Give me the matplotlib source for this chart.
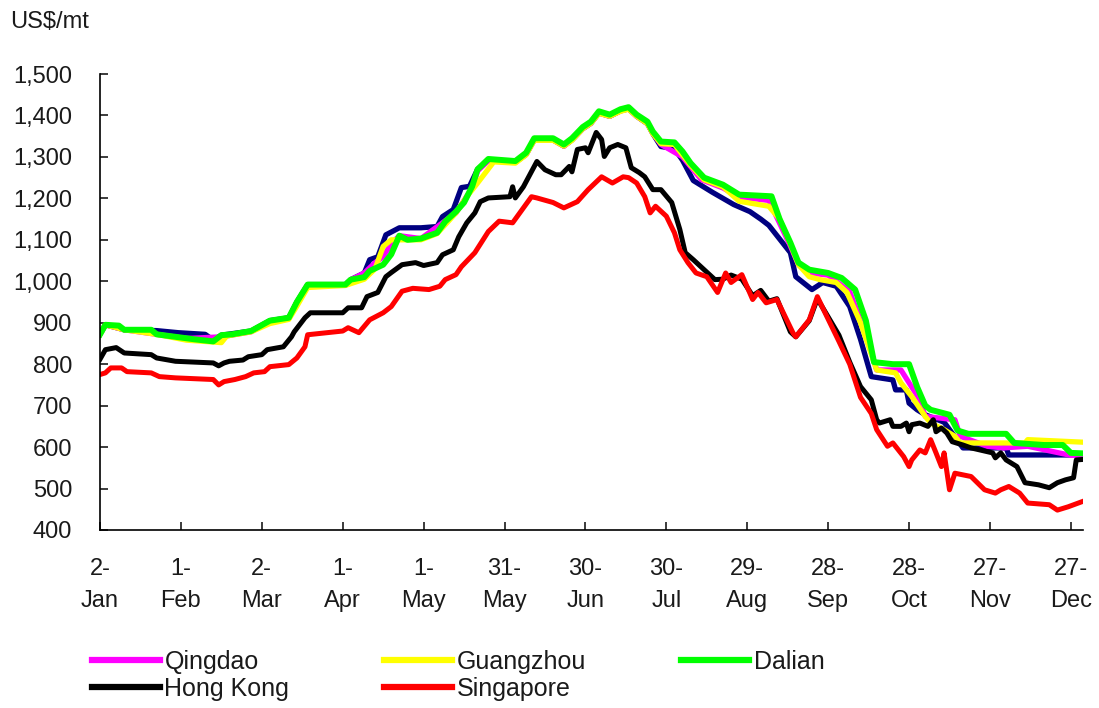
import pandas as pd
import matplotlib
matplotlib.use("Agg")
import matplotlib.pyplot as plt
import matplotlib.dates as mdates
from matplotlib.ticker import FuncFormatter

plt.rcParams['font.family'] = ['Liberation Sans', 'DejaVu Sans']

# daily port prices, US$/mt, 2008 (key turning points)
dalian_dates = ["01-02", "01-04", "01-09", "01-11", "01-21", "01-23", "01-30", "02-06", "02-13", "02-16",
                "02-20", "02-27", "03-05", "03-12", "03-15", "03-19", "04-02", "04-04", "04-09", "04-11",
                "04-16", "04-19", "04-22", "04-25", "04-30", "05-06", "05-09", "05-13", "05-16", "05-19",
                "05-21", "05-25", "06-04", "06-08", "06-11", "06-18", "06-22", "06-25", "06-29", "07-02",
                "07-05", "07-09", "07-13", "07-16", "07-19", "07-23", "07-25", "07-28", "08-02", "08-05",
                "08-08", "08-13", "08-20", "08-26", "09-07", "09-10", "09-14", "09-17", "09-21", "09-28",
                "10-03", "10-08", "10-12", "10-15", "10-22", "10-28", "10-31", "11-03", "11-05", "11-12",
                "11-15", "11-19", "12-03", "12-06", "12-17", "12-24", "12-27", "12-31"]
dalian_vals = [872, 895, 893, 883, 883, 872, 866, 860, 855, 870,
               872, 880, 905, 912, 950, 992, 992, 1004, 1010, 1025,
               1040, 1065, 1110, 1100, 1103, 1117, 1144, 1168, 1190, 1229,
               1270, 1295, 1290, 1310, 1345, 1345, 1330, 1345, 1372, 1385,
               1410, 1402, 1415, 1420, 1402, 1385, 1361, 1337, 1335, 1313,
               1285, 1250, 1233, 1209, 1205, 1150, 1093, 1045, 1028, 1020,
               1008, 980, 905, 805, 800, 800, 745, 700, 690, 678,
               640, 632, 632, 610, 605, 605, 586, 585]

hk_dates = ["01-02", "01-04", "01-08", "01-11", "01-21", "01-23", "01-30", "02-13", "02-15", "02-17",
            "02-19", "02-24", "02-26", "03-02", "03-04", "03-10", "03-13", "03-14", "03-18", "03-20",
            "04-01", "04-03", "04-08", "04-10", "04-14", "04-17", "04-19", "04-23", "04-28", "05-01",
            "05-06", "05-08", "05-12", "05-14", "05-17", "05-20", "05-22", "05-25", "06-02", "06-03",
            "06-04", "06-07", "06-12", "06-15", "06-19", "06-21", "06-24", "06-25", "06-27", "06-30",
            "07-01", "07-04", "07-06", "07-07", "07-09", "07-12", "07-15", "07-17", "07-20", "07-22",
            "07-25", "07-28", "08-01", "08-04", "08-06", "08-09", "08-13", "08-17", "08-20", "08-23",
            "08-27", "08-31", "09-03", "09-06", "09-09", "09-14", "09-16", "09-21", "09-24", "09-27",
            "10-02", "10-06", "10-10", "10-14", "10-16", "10-17", "10-21", "10-22", "10-25", "10-27",
            "10-28", "10-29", "11-01", "11-04", "11-06", "11-07", "11-09", "11-11", "11-13", "11-17",
            "11-20", "11-26", "11-28", "11-29", "12-01", "12-03", "12-07", "12-10", "12-15", "12-19",
            "12-22", "12-25", "12-28", "12-29", "12-31"]
hk_vals = [812, 835, 840, 827, 823, 815, 807, 803, 796, 803,
           807, 810, 818, 823, 835, 842, 866, 878, 912, 924,
           924, 936, 936, 963, 973, 1011, 1021, 1040, 1045, 1038,
           1045, 1064, 1076, 1107, 1141, 1165, 1192, 1201, 1204, 1228,
           1201, 1228, 1289, 1269, 1257, 1257, 1277, 1264, 1318, 1322,
           1310, 1359, 1342, 1301, 1322, 1330, 1322, 1274, 1262, 1252,
           1221, 1221, 1190, 1125, 1069, 1052, 1028, 1004, 1005, 1015,
           1005, 965, 978, 952, 958, 878, 866, 905, 958, 925,
           870, 805, 746, 714, 666, 658, 666, 650, 650, 658,
           637, 654, 658, 650, 666, 637, 646, 634, 613, 605,
           598, 589, 586, 574, 586, 569, 553, 514, 509, 502,
           514, 521, 526, 569, 570]

sg_dates = ["01-02", "01-04", "01-06", "01-10", "01-12", "01-21", "01-24", "01-30", "02-13", "02-15",
            "02-17", "02-21", "02-25", "02-28", "03-03", "03-05", "03-12", "03-15", "03-18", "03-19",
            "04-01", "04-03", "04-07", "04-11", "04-16", "04-19", "04-23", "04-27", "05-03", "05-07",
            "05-09", "05-13", "05-15", "05-20", "05-25", "05-29", "06-03", "06-10", "06-12", "06-18",
            "06-22", "06-27", "07-01", "07-06", "07-10", "07-14", "07-16", "07-19", "07-22", "07-24",
            "07-26", "07-30", "08-02", "08-04", "08-07", "08-10", "08-14", "08-18", "08-21", "08-23",
            "08-27", "08-31", "09-02", "09-05", "09-09", "09-15", "09-16", "09-21", "09-24", "09-27",
            "10-02", "10-06", "10-10", "10-14", "10-16", "10-20", "10-22", "10-26", "10-28", "10-29",
            "11-01", "11-03", "11-05", "11-07", "11-09", "11-10", "11-12", "11-14", "11-20", "11-25",
            "11-29", "12-01", "12-04", "12-08", "12-11", "12-19", "12-22", "12-26", "12-31"]
sg_vals = [775, 779, 791, 791, 782, 779, 770, 767, 763, 750,
           758, 763, 770, 779, 782, 794, 799, 815, 842, 871,
           880, 888, 876, 907, 924, 939, 976, 983, 980, 988,
           1004, 1016, 1035, 1069, 1120, 1145, 1141, 1204, 1201, 1190,
           1177, 1192, 1221, 1252, 1237, 1252, 1250, 1237, 1204, 1165,
           1181, 1157, 1117, 1076, 1045, 1020, 1011, 973, 1020, 997,
           1016, 956, 973, 948, 956, 875, 866, 907, 963, 922,
           855, 800, 720, 681, 642, 602, 610, 577, 553, 569,
           593, 586, 618, 586, 553, 586, 497, 537, 529, 497,
           489, 497, 505, 489, 465, 461, 448, 456, 468]

# unlabelled navy series (no legend entry in the source)
navy_dates = ["01-02", "01-04", "01-11", "01-23", "01-31", "02-10", "02-13", "02-16", "02-27", "03-05",
              "03-12", "03-15", "03-19", "04-02", "04-04", "04-09", "04-11", "04-14", "04-17", "04-22",
              "04-30", "05-06", "05-08", "05-12", "05-15", "05-18", "05-21", "05-25", "06-04", "06-08",
              "06-11", "06-18", "06-22", "06-25", "06-29", "07-02", "07-05", "07-09", "07-13", "07-16",
              "07-19", "07-23", "07-25", "07-28", "08-02", "08-05", "08-09", "08-16", "08-24", "08-30",
              "09-03", "09-06", "09-14", "09-16", "09-22", "09-26", "10-01", "10-06", "10-10", "10-14",
              "10-22", "10-23", "10-27", "10-28", "10-31", "11-03", "11-10", "11-17", "12-03", "12-04",
              "12-31"]
navy_vals = [872, 895, 883, 881, 876, 872, 858, 870, 880, 905,
             912, 950, 992, 992, 1004, 1020, 1052, 1059, 1112, 1129,
             1129, 1132, 1156, 1173, 1226, 1229, 1270, 1292, 1287, 1306,
             1341, 1341, 1326, 1341, 1368, 1381, 1406, 1398, 1411, 1416,
             1398, 1380, 1356, 1325, 1320, 1292, 1243, 1215, 1185, 1168,
             1150, 1135, 1069, 1011, 980, 997, 988, 939, 860, 770,
             762, 738, 738, 706, 690, 678, 660, 598, 598, 581,
             581]

gz_dates = ["01-02", "01-04", "01-11", "01-23", "02-03", "02-16", "02-18", "02-27", "03-05", "03-12",
            "03-15", "03-19", "04-02", "04-09", "04-13", "04-16", "04-19", "04-30", "05-06", "05-13",
            "05-17", "05-21", "05-27", "06-04", "06-08", "06-11", "06-18", "06-22", "06-25", "06-29",
            "07-02", "07-05", "07-09", "07-13", "07-16", "07-19", "07-23", "07-25", "07-28", "08-02",
            "08-08", "08-13", "08-20", "08-26", "09-06", "09-10", "09-14", "09-17", "09-21", "09-25",
            "10-01", "10-05", "10-10", "10-16", "10-23", "10-25", "10-29", "11-03", "11-05", "11-10",
            "11-14", "11-16", "12-10", "12-11", "12-31"]
gz_vals = [872, 895, 883, 872, 858, 852, 868, 878, 898, 908,
           940, 985, 990, 1005, 1030, 1084, 1100, 1100, 1115, 1165,
           1204, 1237, 1288, 1285, 1305, 1340, 1340, 1326, 1340, 1368,
           1381, 1405, 1398, 1410, 1415, 1398, 1380, 1356, 1332, 1330,
           1280, 1245, 1228, 1193, 1181, 1150, 1090, 1040, 1011, 1004,
           997, 973, 900, 786, 779, 755, 722, 674, 658, 642,
           626, 610, 610, 618, 612]

qd_dates = ["01-02", "01-04", "01-11", "01-23", "02-03", "02-16", "02-27", "03-05", "03-12", "03-15",
            "03-19", "04-02", "04-04", "04-09", "04-13", "04-16", "04-19", "04-22", "04-30", "05-13",
            "05-19", "05-21", "05-25", "06-04", "06-08", "06-11", "06-18", "06-22", "06-25", "06-29",
            "07-02", "07-05", "07-09", "07-13", "07-16", "07-19", "07-23", "07-25", "07-28", "08-05",
            "08-12", "08-20", "08-26", "09-06", "09-14", "09-17", "09-21", "09-28", "10-06", "10-12",
            "10-16", "10-25", "11-01", "11-03", "11-14", "11-16", "11-26", "12-02", "12-11", "12-27",
            "12-31"]
qd_vals = [872, 895, 883, 872, 862, 866, 878, 903, 910, 948,
           990, 990, 1004, 1020, 1045, 1059, 1090, 1110, 1103, 1165,
           1225, 1266, 1291, 1287, 1306, 1341, 1341, 1326, 1341, 1368,
           1381, 1406, 1398, 1411, 1416, 1398, 1381, 1357, 1330, 1300,
           1245, 1225, 1203, 1195, 1085, 1040, 1020, 1015, 975, 870,
           786, 786, 714, 674, 666, 626, 602, 598, 602, 580,
           580]


def to_dates(days):
    return pd.to_datetime(["2008-" + s for s in days])


fig = plt.figure(figsize=(10.99, 7.08), dpi=100)
ax = fig.add_axes([100 / 1099, 1 - 530 / 708, 983 / 1099, 456 / 708])

# draw order matters: green sits over the other Chinese ports, red over black
series = [
    (None, navy_dates, navy_vals, "#000080", 3.8),
    ("Qingdao", qd_dates, qd_vals, "#FF00FF", 3.8),
    ("Guangzhou", gz_dates, gz_vals, "#FFFF00", 3.8),
    ("Dalian", dalian_dates, dalian_vals, "#00FF00", 4.3),
    ("Hong Kong", hk_dates, hk_vals, "#000000", 3.6),
    ("Singapore", sg_dates, sg_vals, "#FF0000", 3.6),
]
handles = {}
for name, d, v, col, lw in series:
    ln, = ax.plot(to_dates(d), v, color=col, lw=lw, solid_joinstyle="round")
    if name:
        handles[name] = ln

start = pd.Timestamp("2008-01-02")
ticks = [start + pd.Timedelta(days=30 * i) for i in range(13)]
ax.set_xticks([mdates.date2num(t) for t in ticks])
ax.set_xticklabels([f"{t.day}-\n{t:%b}" for t in ticks], linespacing=1.6)
ax.set_xlim(mdates.date2num(start), mdates.date2num(start + pd.Timedelta(days=364.5)))

ax.set_ylim(400, 1500)
ax.set_yticks(range(400, 1501, 100))
ax.yaxis.set_major_formatter(FuncFormatter(lambda v, p: f"{int(v):,}"))

for s in ["top", "right"]:
    ax.spines[s].set_visible(False)
for s in ["left", "bottom"]:
    ax.spines[s].set_linewidth(1.2)
ax.tick_params(direction="in", length=6, width=1.2, labelsize=17, colors="#1a1a1a")
ax.tick_params(axis="y", pad=20)
ax.tick_params(axis="x", pad=20)

fig.text(10 / 1099, 1 - 22 / 708, "US$/mt", fontsize=17, va="center", ha="left", color="#1a1a1a")

order = ["Qingdao", "Hong Kong", "Guangzhou", "Singapore", "Dalian"]
leg = fig.legend([handles[k] for k in order], order, ncol=3, loc="upper left",
                 bbox_to_anchor=(92 / 1099, 1 - 650 / 708), frameon=False,
                 fontsize=18, handlelength=2.7, handletextpad=0.2, columnspacing=3.8,
                 labelspacing=0.12, borderpad=0, borderaxespad=0)
for t in leg.get_texts():
    t.set_color("#1a1a1a")
for l in leg.get_lines():
    l.set_linewidth(4.5)

fig.savefig("out.png", dpi=100)
